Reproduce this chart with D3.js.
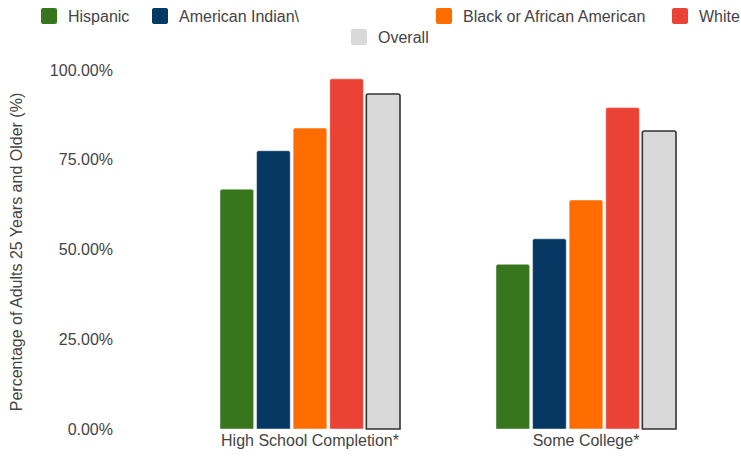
<!DOCTYPE html>
<html>
<head>
<meta charset="utf-8">
<script src="https://cdn.jsdelivr.net/npm/d3@7"></script>
<style>
  html, body { margin: 0; padding: 0; background: #fff; }
  svg { display: block; font-family: "Liberation Sans", Arial, sans-serif; }
</style>
</head>
<body>
<svg id="chart" width="741" height="457"></svg>
<script>
// ---- data ----
const categories = ["High School Completion*", "Some College*"];
const seriesNames = ["Hispanic", "American Indian\\", "Black or African American", "White", "Overall"];
const hispanic = [66.7, 45.8];
const americanIndian = [77.4, 52.9];
const blackAfricanAmerican = [83.7, 63.7];
const white = [97.4, 89.4];
const overall = [93.2, 82.9];
const yTicks = [0, 25, 50, 75, 100];
const yTitle = "Percentage of Adults 25 Years and Older (%)";

const seriesValues = [hispanic, americanIndian, blackAfricanAmerican, white, overall];
const colors = ["#38761d", "#073763", "#ff6d01", "#ea4335", "#d9d9d9"];

const svg = d3.select("#chart");
const textColor = "#444";

// ---- scales ----
const y = d3.scaleLinear().domain([0, 100]).range([429, 69.5]);
const x0 = d3.scaleBand().domain(categories).range([172, 724])
  .paddingInner(96 / 276).paddingOuter(48 / 276);
const x1 = d3.scaleBand().domain(seriesNames).range([0, x0.bandwidth()]).paddingInner(0.08);

// ---- y axis (labels only) ----
const yAxis = d3.axisLeft(y).tickValues(yTicks).tickSize(0).tickPadding(0)
  .tickFormat(d => d3.format(".2f")(d) + "%");
const yg = svg.append("g").attr("transform", "translate(113,0)").call(yAxis);
yg.select(".domain").remove();
yg.selectAll("text").attr("fill", textColor).style("font-size", "16px")
  .style("font-family", "Liberation Sans, Arial, sans-serif").attr("dy", "0.35em");

// y title
svg.append("text")
  .attr("transform", "translate(22,252) rotate(-90)")
  .attr("text-anchor", "middle")
  .attr("fill", textColor)
  .style("font-size", "16px")
  .text(yTitle);

// ---- x axis labels ----
const xAxis = d3.axisBottom(x0).tickSize(0).tickPadding(0);
const xg = svg.append("g").attr("transform", "translate(0,429)").call(xAxis);
xg.select(".domain").remove();
xg.selectAll("text").attr("fill", textColor).style("font-size", "16px")
  .style("font-family", "Liberation Sans, Arial, sans-serif").attr("y", 17).attr("dy", 0);

// ---- bars ----
function topRounded(x, yTop, w, h, r) {
  r = Math.min(r, w / 2, h);
  return `M${x},${yTop + h}V${yTop + r}Q${x},${yTop} ${x + r},${yTop}H${x + w - r}Q${x + w},${yTop} ${x + w},${yTop + r}V${yTop + h}Z`;
}

const groups = svg.append("g").selectAll("g")
  .data(categories).join("g")
  .attr("transform", d => `translate(${x0(d)},0)`);

groups.selectAll("path")
  .data((c, ci) => seriesNames.map((s, si) => ({ s, si, v: seriesValues[si][ci] })))
  .join("path")
  .attr("d", d => topRounded(x1(d.s), y(d.v), x1.bandwidth(), y(0) - y(d.v), 2))
  .attr("fill", d => colors[d.si])
  .attr("stroke", d => d.s === "Overall" ? "#333" : "rgba(255,255,255,0.45)")
  .attr("stroke-width", d => d.s === "Overall" ? 1.6 : 1);

// ---- legend ----
const legendPos = [[41, 8], [152, 8], [436, 8], [672, 8], [351, 29]];
const leg = svg.append("g").selectAll("g")
  .data(seriesNames).join("g")
  .attr("transform", (d, i) => `translate(${legendPos[i][0]},${legendPos[i][1]})`);
leg.append("rect").attr("width", 16).attr("height", 16).attr("rx", 2)
  .attr("fill", (d, i) => colors[i]);
leg.append("text").attr("x", 27).attr("y", 8).attr("dy", "0.35em")
  .attr("fill", textColor).style("font-size", "16px").text(d => d);
</script>
</body>
</html>
